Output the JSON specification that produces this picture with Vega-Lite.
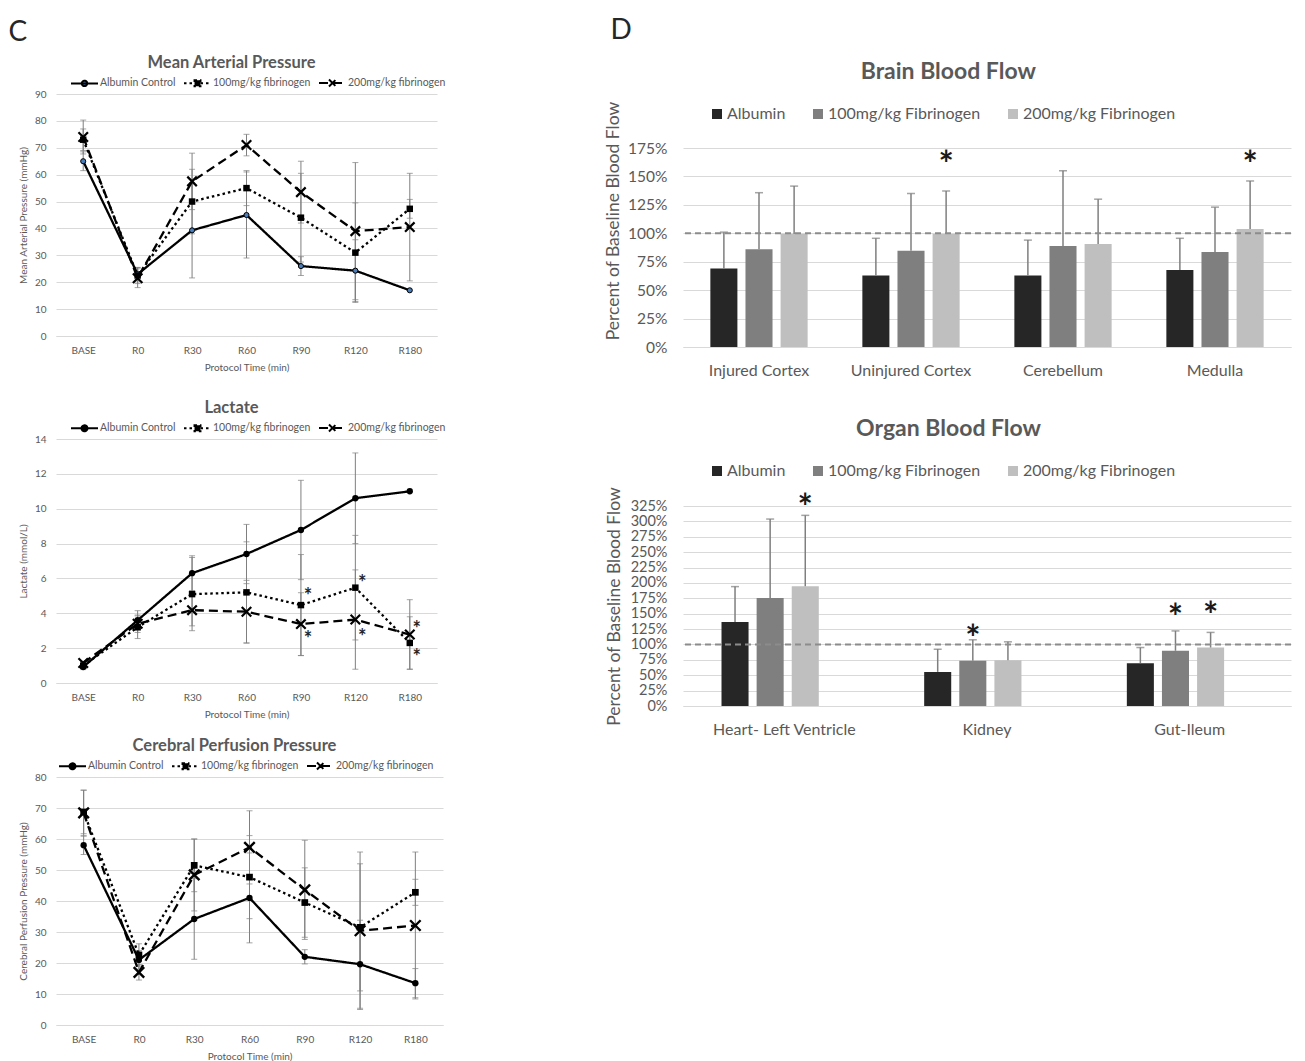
{
 "$schema": "https://vega.github.io/schema/vega-lite/v6.json",
 "background": "white",
 "padding": {"left": 8, "top": 17, "right": 5, "bottom": 0},
 "config": {
  "font": "Lato",
  "view": {"stroke": null},
  "axis": {"labelColor": "#595959", "titleColor": "#595959", "titleFontWeight": "normal", "gridColor": "#d9d9d9", "domainColor": "#d9d9d9", "ticks": false, "tickSize": 0},
  "title": {"color": "#595959"},
  "legend": {"padding": 0}
 },
 "resolve": {"scale": {"color": "independent", "strokeDash": "independent"}, "legend": {"color": "independent", "strokeDash": "independent"}},
 "hconcat": [
  {
   "title": {"text": "C", "anchor": "start", "fontSize": 28, "fontWeight": "normal", "color": "#262626", "offset": 8, "dx": -10},
   "spacing": 27,
   "resolve": {"scale": {"strokeDash": "independent"}, "legend": {"strokeDash": "independent"}},
   "vconcat": [
    {
     "width": 381, "height": 242,
     "title": {"text": "Mean Arterial Pressure", "fontSize": 16.5, "fontWeight": "bold", "offset": -3, "dx": -15},
     "data": {"values": [
      {"time": "BASE", "series": "Albumin Control", "value": 65, "err": 3.5},
      {"time": "BASE", "series": "100mg/kg fibrinogen", "value": 73, "err": 4},
      {"time": "BASE", "series": "200mg/kg fibrinogen", "value": 74, "err": 6.3},
      {"time": "R0", "series": "Albumin Control", "value": 23, "err": 2.5},
      {"time": "R0", "series": "100mg/kg fibrinogen", "value": 22.5, "err": 3},
      {"time": "R0", "series": "200mg/kg fibrinogen", "value": 21.5, "err": 3.5},
      {"time": "R30", "series": "Albumin Control", "value": 39.3, "err": 17.7},
      {"time": "R30", "series": "100mg/kg fibrinogen", "value": 50, "err": 12},
      {"time": "R30", "series": "200mg/kg fibrinogen", "value": 57.5, "err": 10.5},
      {"time": "R60", "series": "Albumin Control", "value": 45, "err": 16},
      {"time": "R60", "series": "100mg/kg fibrinogen", "value": 55, "err": 6.5},
      {"time": "R60", "series": "200mg/kg fibrinogen", "value": 71, "err": 4},
      {"time": "R90", "series": "Albumin Control", "value": 26, "err": 3.5},
      {"time": "R90", "series": "100mg/kg fibrinogen", "value": 44, "err": 16.5},
      {"time": "R90", "series": "200mg/kg fibrinogen", "value": 53.5, "err": 11.5},
      {"time": "R120", "series": "Albumin Control", "value": 24.3, "err": 11.5},
      {"time": "R120", "series": "100mg/kg fibrinogen", "value": 31, "err": 18.5},
      {"time": "R120", "series": "200mg/kg fibrinogen", "value": 39, "err": 25.5},
      {"time": "R180", "series": "Albumin Control", "value": 17},
      {"time": "R180", "series": "100mg/kg fibrinogen", "value": 47.3, "err": 3.5},
      {"time": "R180", "series": "200mg/kg fibrinogen", "value": 40.5, "err": 20}
     ]},
     "encoding": {
      "x": {"field": "time", "type": "ordinal", "sort": ["BASE","R0","R30","R60","R90","R120","R180"], "scale": {"type": "point", "padding": 0.5}, "axis": {"title": "Protocol Time (min)", "labelAngle": 0, "labelFontSize": 10, "titleFontSize": 10, "labelPadding": 9, "titlePadding": 7, "grid": false, "domain": true}},
      "y": {"field": "value", "type": "quantitative", "scale": {"domain": [0, 90], "nice": false}, "axis": {"title": "Mean Arterial Pressure (mmHg)", "values": [0,10,20,30,40,50,60,70,80,90], "labelFontSize": 10, "titleFontSize": 10, "labelPadding": 10, "titlePadding": 6, "grid": true, "domain": false}}
     },
     "layer": [
      {
       "transform": [{"filter": "datum.err != null"}],
       "mark": {"type": "errorbar", "color": "#7f7f7f", "thickness": 1, "ticks": {"size": 6}},
       "encoding": {"yError": {"field": "err"}}
      },
      {
       "mark": {"type": "line", "color": "black", "strokeWidth": 2.3},
       "encoding": {
        "strokeDash": {"field": "series", "type": "nominal", "scale": {"domain": ["Albumin Control","100mg/kg fibrinogen","200mg/kg fibrinogen"], "range": [[1,0],[2.5,3],[9,5]]},
         "legend": {"orient": "none", "legendX": 14, "legendY": -26, "direction": "horizontal", "title": null, "labelFontSize": 10.5, "labelColor": "#595959", "symbolSize": 729, "symbolStrokeWidth": 2, "symbolStrokeColor": "black", "columnPadding": 4, "labelOffset": 1,
          "encode": {"symbols": {"update": {
           "shape": {"signal": "datum.value === 'Albumin Control' ? 'M-1,0L1,0M0.2,0A0.2,0.2,0,1,1,-0.2,0A0.2,0.2,0,1,1,0.2,0Z' : datum.value === '100mg/kg fibrinogen' ? 'M-1,0L1,0M-0.22,-0.22L0.22,-0.22L0.22,0.22L-0.22,0.22Z' : 'M-1,0L1,0M-0.26,-0.26L0.26,0.26M-0.26,0.26L0.26,-0.26'"},
           "fill": {"signal": "datum.value === 'Albumin Control' ? '#4a7ebb' : 'black'"},
           "stroke": {"value": "black"}
          }}}}}
       }
      },
      {
       "transform": [{"filter": "datum.series === 'Albumin Control'"}],
       "mark": {"type": "point", "shape": "circle", "filled": true, "fill": "#4a7ebb", "stroke": "black", "strokeWidth": 1, "size": 26, "opacity": 1}
      },
      {
       "transform": [{"filter": "datum.series === '100mg/kg fibrinogen'"}],
       "mark": {"type": "point", "shape": "square", "filled": true, "fill": "black", "size": 42, "opacity": 1}
      },
      {
       "transform": [{"filter": "datum.series === '200mg/kg fibrinogen'"}],
       "mark": {"type": "point", "shape": "M-1,-1L1,1M-1,1L1,-1", "filled": false, "stroke": "black", "strokeWidth": 2.2, "size": 90, "opacity": 1}
      }
     ]
    },
    {
     "spacing": 18,
     "resolve": {"scale": {"strokeDash": "independent"}, "legend": {"strokeDash": "independent"}},
     "vconcat": [
      {
       "width": 381, "height": 244,
       "title": {"text": "Lactate", "fontSize": 16.5, "fontWeight": "bold", "offset": -3, "dx": -15},
       "data": {"values": [
        {"time": "BASE", "series": "Albumin Control", "value": 0.92, "err": 0.15},
        {"time": "BASE", "series": "100mg/kg fibrinogen", "value": 1.0, "err": 0.1},
        {"time": "BASE", "series": "200mg/kg fibrinogen", "value": 1.15, "err": 0.1},
        {"time": "R0", "series": "Albumin Control", "value": 3.6, "err": 0.55},
        {"time": "R0", "series": "100mg/kg fibrinogen", "value": 3.2, "err": 0.65},
        {"time": "R0", "series": "200mg/kg fibrinogen", "value": 3.4, "err": 0.5},
        {"time": "R30", "series": "Albumin Control", "value": 6.3, "err": 1.0},
        {"time": "R30", "series": "100mg/kg fibrinogen", "value": 5.1, "err": 2.1},
        {"time": "R30", "series": "200mg/kg fibrinogen", "value": 4.18, "err": 0.9},
        {"time": "R60", "series": "Albumin Control", "value": 7.4, "err": 1.7},
        {"time": "R60", "series": "100mg/kg fibrinogen", "value": 5.2, "err": 2.9},
        {"time": "R60", "series": "200mg/kg fibrinogen", "value": 4.09, "err": 1.8},
        {"time": "R90", "series": "Albumin Control", "value": 8.78, "err": 2.85},
        {"time": "R90", "series": "100mg/kg fibrinogen", "value": 4.47, "err": 2.9},
        {"time": "R90", "series": "200mg/kg fibrinogen", "value": 3.38, "err": 1.8},
        {"time": "R120", "series": "Albumin Control", "value": 10.6, "err": 2.6},
        {"time": "R120", "series": "100mg/kg fibrinogen", "value": 5.47, "err": 3.0},
        {"time": "R120", "series": "200mg/kg fibrinogen", "value": 3.64, "err": 2.85},
        {"time": "R180", "series": "Albumin Control", "value": 11.0},
        {"time": "R180", "series": "100mg/kg fibrinogen", "value": 2.3, "err": 1.5},
        {"time": "R180", "series": "200mg/kg fibrinogen", "value": 2.78, "err": 2.0}
       ]},
       "encoding": {
        "x": {"field": "time", "type": "ordinal", "sort": ["BASE","R0","R30","R60","R90","R120","R180"], "scale": {"type": "point", "padding": 0.5}, "axis": {"title": "Protocol Time (min)", "labelAngle": 0, "labelFontSize": 10, "titleFontSize": 10, "labelPadding": 9, "titlePadding": 7, "grid": false, "domain": true}},
        "y": {"field": "value", "type": "quantitative", "scale": {"domain": [0, 14], "nice": false}, "axis": {"title": "Lactate (mmol/L)", "values": [0,2,4,6,8,10,12,14], "labelFontSize": 10, "titleFontSize": 10, "labelPadding": 10, "titlePadding": 6, "grid": true, "domain": false}}
       },
       "layer": [
        {
         "transform": [{"filter": "datum.err != null"}],
         "mark": {"type": "errorbar", "color": "#7f7f7f", "thickness": 1, "ticks": {"size": 6}},
         "encoding": {"yError": {"field": "err"}}
        },
        {
         "mark": {"type": "line", "color": "black", "strokeWidth": 2.3},
         "encoding": {
          "strokeDash": {"field": "series", "type": "nominal", "scale": {"domain": ["Albumin Control","100mg/kg fibrinogen","200mg/kg fibrinogen"], "range": [[1,0],[2.5,3],[9,5]]},
           "legend": {"orient": "none", "legendX": 14, "legendY": -26, "direction": "horizontal", "title": null, "labelFontSize": 10.5, "labelColor": "#595959", "symbolSize": 729, "symbolStrokeWidth": 2, "symbolStrokeColor": "black", "columnPadding": 4, "labelOffset": 1,
            "encode": {"symbols": {"update": {
             "shape": {"signal": "datum.value === 'Albumin Control' ? 'M-1,0L1,0M0.22,0A0.22,0.22,0,1,1,-0.22,0A0.22,0.22,0,1,1,0.22,0Z' : datum.value === '100mg/kg fibrinogen' ? 'M-1,0L1,0M-0.22,-0.22L0.22,-0.22L0.22,0.22L-0.22,0.22Z' : 'M-1,0L1,0M-0.26,-0.26L0.26,0.26M-0.26,0.26L0.26,-0.26'"},
             "fill": {"value": "black"},
             "stroke": {"value": "black"}
            }}}}}
         }
        },
        {
         "transform": [{"filter": "datum.series === 'Albumin Control'"}],
         "mark": {"type": "point", "shape": "circle", "filled": true, "fill": "black", "size": 40, "opacity": 1}
        },
        {
         "transform": [{"filter": "datum.series === '100mg/kg fibrinogen'"}],
         "mark": {"type": "point", "shape": "square", "filled": true, "fill": "black", "size": 42, "opacity": 1}
        },
        {
         "transform": [{"filter": "datum.series === '200mg/kg fibrinogen'"}],
         "mark": {"type": "point", "shape": "M-1,-1L1,1M-1,1L1,-1", "filled": false, "stroke": "black", "strokeWidth": 2.2, "size": 90, "opacity": 1}
        },
        {
         "data": {"values": [
          {"time": "R90", "value": 5.3},
          {"time": "R90", "value": 2.8},
          {"time": "R120", "value": 6.0},
          {"time": "R120", "value": 2.95},
          {"time": "R180", "value": 3.4},
          {"time": "R180", "value": 1.8}
         ]},
         "mark": {"type": "text", "text": "*", "fontSize": 20, "fontWeight": "bold", "fill": "#262626", "dx": 7, "dy": 6, "baseline": "middle"}
        }
       ]
      },
      {
       "width": 387, "height": 248,
       "title": {"text": "Cerebral Perfusion Pressure", "fontSize": 16.5, "fontWeight": "bold", "offset": -3, "dx": -15},
       "data": {"values": [
        {"time": "BASE", "series": "Albumin Control", "value": 58, "err": 3},
        {"time": "BASE", "series": "100mg/kg fibrinogen", "value": 68.7, "err": 7},
        {"time": "BASE", "series": "200mg/kg fibrinogen", "value": 68.4, "err": 7.4},
        {"time": "R0", "series": "Albumin Control", "value": 21, "err": 3},
        {"time": "R0", "series": "100mg/kg fibrinogen", "value": 22.6, "err": 3.6},
        {"time": "R0", "series": "200mg/kg fibrinogen", "value": 17, "err": 2.5},
        {"time": "R30", "series": "Albumin Control", "value": 34.2, "err": 13},
        {"time": "R30", "series": "100mg/kg fibrinogen", "value": 51.5, "err": 8.5},
        {"time": "R30", "series": "200mg/kg fibrinogen", "value": 48.4, "err": 11.6},
        {"time": "R60", "series": "Albumin Control", "value": 41, "err": 14.5},
        {"time": "R60", "series": "100mg/kg fibrinogen", "value": 47.7, "err": 13.4},
        {"time": "R60", "series": "200mg/kg fibrinogen", "value": 57.3, "err": 11.8},
        {"time": "R90", "series": "Albumin Control", "value": 22, "err": 2.3},
        {"time": "R90", "series": "100mg/kg fibrinogen", "value": 39.5, "err": 11.2},
        {"time": "R90", "series": "200mg/kg fibrinogen", "value": 43.6, "err": 16},
        {"time": "R120", "series": "Albumin Control", "value": 19.6, "err": 14.2},
        {"time": "R120", "series": "100mg/kg fibrinogen", "value": 31.5, "err": 20.5},
        {"time": "R120", "series": "200mg/kg fibrinogen", "value": 30.4, "err": 25.4},
        {"time": "R180", "series": "Albumin Control", "value": 13.5, "err": 4.7},
        {"time": "R180", "series": "100mg/kg fibrinogen", "value": 42.8, "err": 4.2},
        {"time": "R180", "series": "200mg/kg fibrinogen", "value": 32.1, "err": 23.7}
       ]},
       "encoding": {
        "x": {"field": "time", "type": "ordinal", "sort": ["BASE","R0","R30","R60","R90","R120","R180"], "scale": {"type": "point", "padding": 0.5}, "axis": {"title": "Protocol Time (min)", "labelAngle": 0, "labelFontSize": 10, "titleFontSize": 10, "labelPadding": 9, "titlePadding": 7, "grid": false, "domain": true}},
        "y": {"field": "value", "type": "quantitative", "scale": {"domain": [0, 80], "nice": false}, "axis": {"title": "Cerebral Perfusion Pressure (mmHg)", "values": [0,10,20,30,40,50,60,70,80], "labelFontSize": 10, "titleFontSize": 10, "labelPadding": 10, "titlePadding": 6, "grid": true, "domain": false}}
       },
       "layer": [
        {
         "transform": [{"filter": "datum.err != null"}],
         "mark": {"type": "errorbar", "color": "#7f7f7f", "thickness": 1, "ticks": {"size": 6}},
         "encoding": {"yError": {"field": "err"}}
        },
        {
         "mark": {"type": "line", "color": "black", "strokeWidth": 2.3},
         "encoding": {
          "strokeDash": {"field": "series", "type": "nominal", "scale": {"domain": ["Albumin Control","100mg/kg fibrinogen","200mg/kg fibrinogen"], "range": [[1,0],[2.5,3],[9,5]]},
           "legend": {"orient": "none", "legendX": 2, "legendY": -26, "direction": "horizontal", "title": null, "labelFontSize": 10.5, "labelColor": "#595959", "symbolSize": 729, "symbolStrokeWidth": 2, "symbolStrokeColor": "black", "columnPadding": 4, "labelOffset": 1,
            "encode": {"symbols": {"update": {
             "shape": {"signal": "datum.value === 'Albumin Control' ? 'M-1,0L1,0M0.22,0A0.22,0.22,0,1,1,-0.22,0A0.22,0.22,0,1,1,0.22,0Z' : datum.value === '100mg/kg fibrinogen' ? 'M-1,0L1,0M-0.22,-0.22L0.22,-0.22L0.22,0.22L-0.22,0.22Z' : 'M-1,0L1,0M-0.26,-0.26L0.26,0.26M-0.26,0.26L0.26,-0.26'"},
             "fill": {"value": "black"},
             "stroke": {"value": "black"}
            }}}}}
         }
        },
        {
         "transform": [{"filter": "datum.series === 'Albumin Control'"}],
         "mark": {"type": "point", "shape": "circle", "filled": true, "fill": "black", "size": 40, "opacity": 1}
        },
        {
         "transform": [{"filter": "datum.series === '100mg/kg fibrinogen'"}],
         "mark": {"type": "point", "shape": "square", "filled": true, "fill": "black", "size": 45, "opacity": 1}
        },
        {
         "transform": [{"filter": "datum.series === '200mg/kg fibrinogen'"}],
         "mark": {"type": "point", "shape": "M-1,-1L1,1M-1,1L1,-1", "filled": false, "stroke": "black", "strokeWidth": 2.4, "size": 110, "opacity": 1}
        }
       ]
      }
     ]
    }
   ]
  },
  {
   "title": {"text": "D", "anchor": "start", "fontSize": 28, "fontWeight": "normal", "color": "#262626", "offset": 16, "dx": 6},
   "spacing": 40,
   "resolve": {"scale": {"color": "independent"}, "legend": {"color": "independent"}},
   "vconcat": [
    {
     "width": 608, "height": 253,
     "title": {"text": "Brain Blood Flow", "fontSize": 23, "fontWeight": "bold", "offset": 10, "anchor": "middle", "frame": "bounds"},
     "data": {"values": [
      {"region": "Injured Cortex", "group": "Albumin", "value": 69, "upper": 101},
      {"region": "Injured Cortex", "group": "100mg/kg Fibrinogen", "value": 86, "upper": 135.7},
      {"region": "Injured Cortex", "group": "200mg/kg Fibrinogen", "value": 99.4, "upper": 141.5},
      {"region": "Uninjured Cortex", "group": "Albumin", "value": 62.8, "upper": 95.6},
      {"region": "Uninjured Cortex", "group": "100mg/kg Fibrinogen", "value": 84.7, "upper": 135},
      {"region": "Uninjured Cortex", "group": "200mg/kg Fibrinogen", "value": 99.4, "upper": 137.2, "star": 167},
      {"region": "Cerebellum", "group": "Albumin", "value": 62.8, "upper": 94},
      {"region": "Cerebellum", "group": "100mg/kg Fibrinogen", "value": 88.8, "upper": 155},
      {"region": "Cerebellum", "group": "200mg/kg Fibrinogen", "value": 90.6, "upper": 130},
      {"region": "Medulla", "group": "Albumin", "value": 67.8, "upper": 95.6},
      {"region": "Medulla", "group": "100mg/kg Fibrinogen", "value": 83.5, "upper": 123},
      {"region": "Medulla", "group": "200mg/kg Fibrinogen", "value": 103.8, "upper": 146, "star": 167}
     ]},
     "layer": [
      {
       "mark": {"type": "bar"},
       "encoding": {
        "x": {"field": "region", "type": "nominal", "sort": ["Injured Cortex","Uninjured Cortex","Cerebellum","Medulla"], "scale": {"paddingInner": 0.36, "paddingOuter": 0.18}, "axis": {"title": null, "labelAngle": 0, "labelFontSize": 16, "labelPadding": 15, "grid": false, "domain": true}},
        "xOffset": {"field": "group", "type": "nominal", "sort": ["Albumin","100mg/kg Fibrinogen","200mg/kg Fibrinogen"], "scale": {"paddingInner": 0.23}},
        "y": {"field": "value", "type": "quantitative", "scale": {"domain": [0, 222.5], "nice": false}, "axis": {"title": "Percent of Baseline Blood Flow", "values": [0,25,50,75,100,125,150,175], "labelExpr": "datum.value + '%'", "labelFontSize": 15.5, "titleFontSize": 17.5, "labelPadding": 16, "titlePadding": 5, "grid": true, "domain": false, "labelOverlap": false}},
        "color": {"field": "group", "type": "nominal", "scale": {"domain": ["Albumin","100mg/kg Fibrinogen","200mg/kg Fibrinogen"], "range": ["#262626","#7f7f7f","#bfbfbf"]},
         "legend": {"orient": "none", "legendX": 26, "legendY": 12, "direction": "horizontal", "title": null, "labelFontSize": 16, "labelColor": "#595959", "symbolType": "square", "symbolSize": 100, "columnPadding": 24, "labelOffset": 2}}
       }
      },
      {
       "mark": {"type": "rule", "color": "#7f7f7f", "strokeWidth": 1.5},
       "encoding": {
        "x": {"field": "region", "type": "nominal", "sort": ["Injured Cortex","Uninjured Cortex","Cerebellum","Medulla"], "axis": {"title": null, "labelAngle": 0, "labelFontSize": 16, "labelPadding": 15, "grid": false, "domain": true}},
        "xOffset": {"field": "group", "type": "nominal", "sort": ["Albumin","100mg/kg Fibrinogen","200mg/kg Fibrinogen"]},
        "y": {"field": "value", "type": "quantitative", "axis": {"title": "Percent of Baseline Blood Flow", "values": [0,25,50,75,100,125,150,175], "labelExpr": "datum.value + '%'", "labelFontSize": 15.5, "titleFontSize": 17.5, "labelPadding": 16, "titlePadding": 5, "grid": true, "domain": false, "labelOverlap": false}},
        "y2": {"field": "upper"}
       }
      },
      {
       "mark": {"type": "tick", "color": "#7f7f7f", "thickness": 1.5, "size": 8},
       "encoding": {
        "x": {"field": "region", "type": "nominal", "sort": ["Injured Cortex","Uninjured Cortex","Cerebellum","Medulla"], "axis": {"title": null, "labelAngle": 0, "labelFontSize": 16, "labelPadding": 15, "grid": false, "domain": true}},
        "xOffset": {"field": "group", "type": "nominal", "sort": ["Albumin","100mg/kg Fibrinogen","200mg/kg Fibrinogen"]},
        "y": {"field": "upper", "type": "quantitative", "axis": {"title": "Percent of Baseline Blood Flow", "values": [0,25,50,75,100,125,150,175], "labelExpr": "datum.value + '%'", "labelFontSize": 15.5, "titleFontSize": 17.5, "labelPadding": 16, "titlePadding": 5, "grid": true, "domain": false, "labelOverlap": false}}
       }
      },
      {
       "transform": [{"filter": "datum.star != null"}],
       "mark": {"type": "text", "text": "*", "fontSize": 36, "fontWeight": "bold", "fill": "#1a1a1a", "baseline": "middle", "dy": 9},
       "encoding": {
        "x": {"field": "region", "type": "nominal", "sort": ["Injured Cortex","Uninjured Cortex","Cerebellum","Medulla"], "axis": {"title": null, "labelAngle": 0, "labelFontSize": 16, "labelPadding": 15, "grid": false, "domain": true}},
        "xOffset": {"field": "group", "type": "nominal", "sort": ["Albumin","100mg/kg Fibrinogen","200mg/kg Fibrinogen"]},
        "y": {"field": "star", "type": "quantitative", "axis": {"title": "Percent of Baseline Blood Flow", "values": [0,25,50,75,100,125,150,175], "labelExpr": "datum.value + '%'", "labelFontSize": 15.5, "titleFontSize": 17.5, "labelPadding": 16, "titlePadding": 5, "grid": true, "domain": false, "labelOverlap": false}}
       }
      },
      {
       "data": {"values": [{"ref": 100}]},
       "mark": {"type": "rule", "color": "#8c8c8c", "strokeWidth": 2, "strokeDash": [6, 4]},
       "encoding": {"y": {"field": "ref", "type": "quantitative", "axis": {"title": "Percent of Baseline Blood Flow", "values": [0,25,50,75,100,125,150,175], "labelExpr": "datum.value + '%'", "labelFontSize": 15.5, "titleFontSize": 17.5, "labelPadding": 16, "titlePadding": 5, "grid": true, "domain": false, "labelOverlap": false}}}
      }
     ]
    },
    {
     "width": 608, "height": 200,
     "title": {"text": "Organ Blood Flow", "fontSize": 23, "fontWeight": "bold", "offset": 22, "anchor": "middle", "frame": "bounds"},
     "data": {"values": [
      {"region": "Heart- Left Ventricle", "group": "Albumin", "value": 136.4, "upper": 194},
      {"region": "Heart- Left Ventricle", "group": "100mg/kg Fibrinogen", "value": 175.5, "upper": 303.8},
      {"region": "Heart- Left Ventricle", "group": "200mg/kg Fibrinogen", "value": 194.6, "upper": 309.8, "star": 334},
      {"region": "Kidney", "group": "Albumin", "value": 55.4, "upper": 92.4},
      {"region": "Kidney", "group": "100mg/kg Fibrinogen", "value": 73.4, "upper": 107.6, "star": 122},
      {"region": "Kidney", "group": "200mg/kg Fibrinogen", "value": 74.5, "upper": 104.3},
      {"region": "Gut-Ileum", "group": "Albumin", "value": 69.6, "upper": 95},
      {"region": "Gut-Ileum", "group": "100mg/kg Fibrinogen", "value": 89.7, "upper": 122, "star": 156},
      {"region": "Gut-Ileum", "group": "200mg/kg Fibrinogen", "value": 95, "upper": 119.6, "star": 159}
     ]},
     "layer": [
      {
       "mark": {"type": "bar"},
       "encoding": {
        "x": {"field": "region", "type": "nominal", "sort": ["Heart- Left Ventricle","Kidney","Gut-Ileum"], "scale": {"paddingInner": 0.38, "paddingOuter": 0.19}, "axis": {"title": null, "labelAngle": 0, "labelFontSize": 16, "labelPadding": 15, "grid": false, "domain": true}},
        "xOffset": {"field": "group", "type": "nominal", "sort": ["Albumin","100mg/kg Fibrinogen","200mg/kg Fibrinogen"], "scale": {"paddingInner": 0.23}},
        "y": {"field": "value", "type": "quantitative", "scale": {"domain": [0, 325], "nice": false}, "axis": {"title": "Percent of Baseline Blood Flow", "values": [0,25,50,75,100,125,150,175,200,225,250,275,300,325], "labelExpr": "datum.value + '%'", "labelFontSize": 14.5, "titleFontSize": 17.5, "labelPadding": 16, "titlePadding": 7, "grid": true, "domain": false, "labelOverlap": false}},
        "color": {"field": "group", "type": "nominal", "scale": {"domain": ["Albumin","100mg/kg Fibrinogen","200mg/kg Fibrinogen"], "range": ["#262626","#7f7f7f","#bfbfbf"]},
         "legend": {"orient": "none", "legendX": 26, "legendY": -43, "direction": "horizontal", "title": null, "labelFontSize": 16, "labelColor": "#595959", "symbolType": "square", "symbolSize": 100, "columnPadding": 24, "labelOffset": 2}}
       }
      },
      {
       "mark": {"type": "rule", "color": "#7f7f7f", "strokeWidth": 1.5},
       "encoding": {
        "x": {"field": "region", "type": "nominal", "sort": ["Heart- Left Ventricle","Kidney","Gut-Ileum"], "axis": {"title": null, "labelAngle": 0, "labelFontSize": 16, "labelPadding": 15, "grid": false, "domain": true}},
        "xOffset": {"field": "group", "type": "nominal", "sort": ["Albumin","100mg/kg Fibrinogen","200mg/kg Fibrinogen"]},
        "y": {"field": "value", "type": "quantitative", "axis": {"title": "Percent of Baseline Blood Flow", "values": [0,25,50,75,100,125,150,175,200,225,250,275,300,325], "labelExpr": "datum.value + '%'", "labelFontSize": 14.5, "titleFontSize": 17.5, "labelPadding": 16, "titlePadding": 7, "grid": true, "domain": false, "labelOverlap": false}},
        "y2": {"field": "upper"}
       }
      },
      {
       "mark": {"type": "tick", "color": "#7f7f7f", "thickness": 1.5, "size": 8},
       "encoding": {
        "x": {"field": "region", "type": "nominal", "sort": ["Heart- Left Ventricle","Kidney","Gut-Ileum"], "axis": {"title": null, "labelAngle": 0, "labelFontSize": 16, "labelPadding": 15, "grid": false, "domain": true}},
        "xOffset": {"field": "group", "type": "nominal", "sort": ["Albumin","100mg/kg Fibrinogen","200mg/kg Fibrinogen"]},
        "y": {"field": "upper", "type": "quantitative", "axis": {"title": "Percent of Baseline Blood Flow", "values": [0,25,50,75,100,125,150,175,200,225,250,275,300,325], "labelExpr": "datum.value + '%'", "labelFontSize": 14.5, "titleFontSize": 17.5, "labelPadding": 16, "titlePadding": 7, "grid": true, "domain": false, "labelOverlap": false}}
       }
      },
      {
       "transform": [{"filter": "datum.star != null"}],
       "mark": {"type": "text", "text": "*", "fontSize": 36, "fontWeight": "bold", "fill": "#1a1a1a", "baseline": "middle", "dy": 9},
       "encoding": {
        "x": {"field": "region", "type": "nominal", "sort": ["Heart- Left Ventricle","Kidney","Gut-Ileum"], "axis": {"title": null, "labelAngle": 0, "labelFontSize": 16, "labelPadding": 15, "grid": false, "domain": true}},
        "xOffset": {"field": "group", "type": "nominal", "sort": ["Albumin","100mg/kg Fibrinogen","200mg/kg Fibrinogen"]},
        "y": {"field": "star", "type": "quantitative", "axis": {"title": "Percent of Baseline Blood Flow", "values": [0,25,50,75,100,125,150,175,200,225,250,275,300,325], "labelExpr": "datum.value + '%'", "labelFontSize": 14.5, "titleFontSize": 17.5, "labelPadding": 16, "titlePadding": 7, "grid": true, "domain": false, "labelOverlap": false}}
       }
      },
      {
       "data": {"values": [{"ref": 100}]},
       "mark": {"type": "rule", "color": "#8c8c8c", "strokeWidth": 2, "strokeDash": [6, 4]},
       "encoding": {"y": {"field": "ref", "type": "quantitative", "axis": {"title": "Percent of Baseline Blood Flow", "values": [0,25,50,75,100,125,150,175,200,225,250,275,300,325], "labelExpr": "datum.value + '%'", "labelFontSize": 14.5, "titleFontSize": 17.5, "labelPadding": 16, "titlePadding": 7, "grid": true, "domain": false, "labelOverlap": false}}}
      }
     ]
    }
   ]
  }
 ],
 "spacing": 158
}
